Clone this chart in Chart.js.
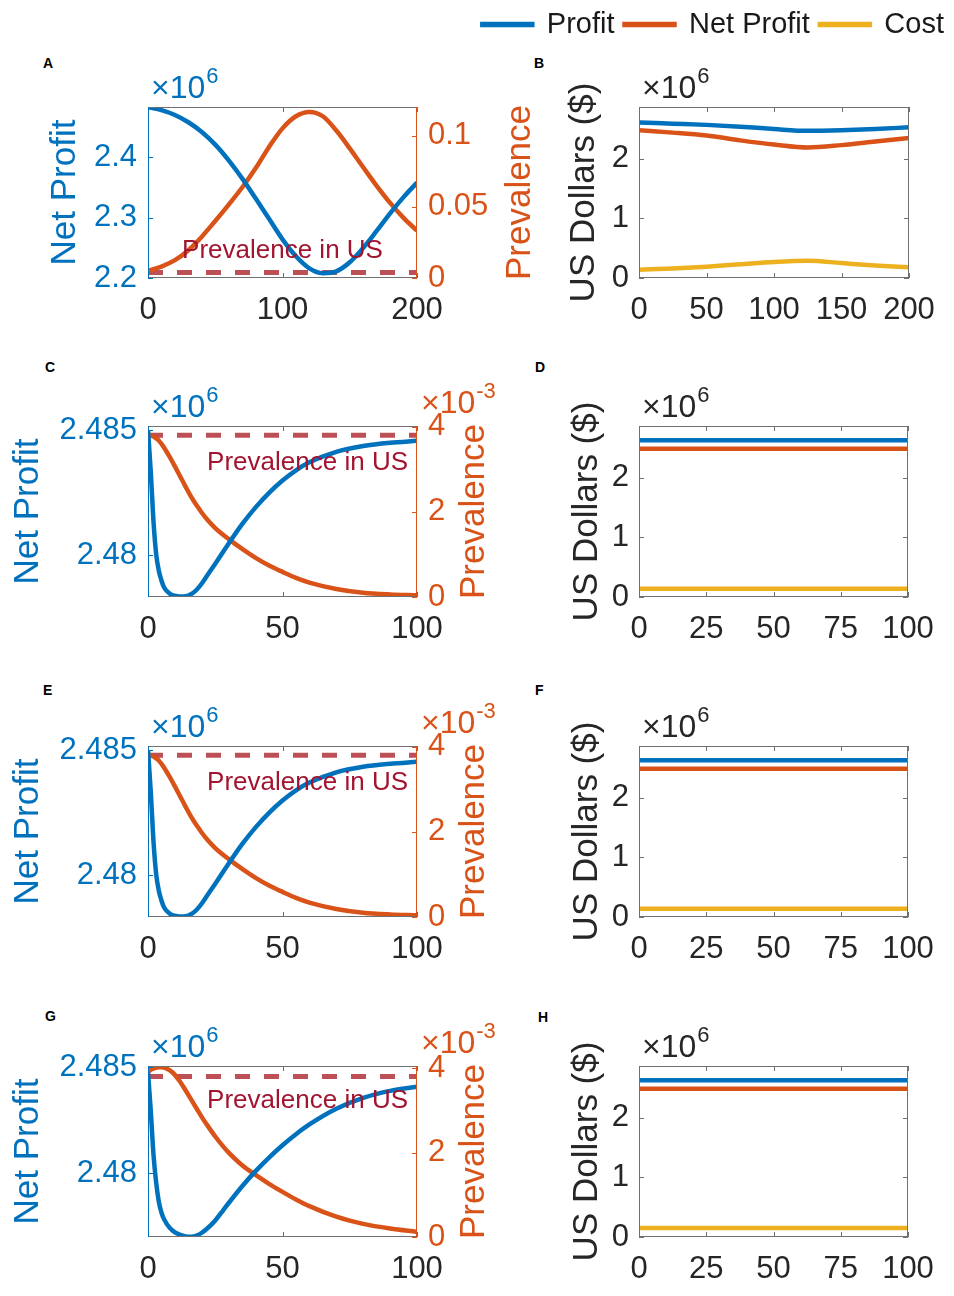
<!DOCTYPE html>
<html>
<head>
<meta charset="utf-8">
<title>Net profit, prevalence and costs</title>
<script src="https://cdn.jsdelivr.net/npm/chart.js@4.4.1/dist/chart.umd.min.js"></script>
<style>
  html, body { margin: 0; padding: 0; background: #fff; }
  body { position: relative; width: 954px; height: 1296px; overflow: hidden; font-family: "Liberation Sans", Arial, sans-serif; }
  canvas { position: absolute; }
  .tag { position: absolute; font-weight: bold; font-size: 14px; color: #000; }
</style>
</head>
<body>
<div class="tag" style="left:43px;top:55px">A</div>
<div class="tag" style="left:534px;top:55px">B</div>
<div class="tag" style="left:45px;top:359px">C</div>
<div class="tag" style="left:535px;top:359px">D</div>
<div class="tag" style="left:43px;top:682px">E</div>
<div class="tag" style="left:535px;top:682px">F</div>
<div class="tag" style="left:45px;top:1008px">G</div>
<div class="tag" style="left:538px;top:1009px">H</div>

<canvas id="panel-a"></canvas>
<canvas id="panel-b"></canvas>
<canvas id="panel-c"></canvas>
<canvas id="panel-d"></canvas>
<canvas id="panel-e"></canvas>
<canvas id="panel-f"></canvas>
<canvas id="panel-g"></canvas>
<canvas id="panel-h"></canvas>

<script>
// money is in millions of dollars (axes show x10^6), prevalence is a fraction
const usPrevalence = 3.8e-3;

// A
const xA = [0, 10, 20, 30, 40, 50, 60, 70, 80, 90, 100, 110, 120, 130, 140, 150, 160, 170, 180, 190, 200];
const netA = [2.483, 2.478, 2.470, 2.458, 2.442, 2.421, 2.395, 2.365, 2.332, 2.298, 2.264, 2.236, 2.216, 2.208, 2.211, 2.226, 2.250, 2.278, 2.307, 2.334, 2.358];
const prevA = [0.005, 0.008, 0.0125, 0.0195, 0.029, 0.040, 0.0515, 0.0635, 0.077, 0.092, 0.105, 0.1135, 0.1165, 0.1135, 0.1035, 0.091, 0.0777, 0.0647, 0.0527, 0.0422, 0.0332];

// B
const xB = [0, 25, 50, 75, 100, 125, 150, 175, 200];
const profitB = [2.61, 2.59, 2.57, 2.54, 2.50, 2.47, 2.48, 2.50, 2.53];
const netB = [2.48, 2.44, 2.39, 2.31, 2.24, 2.19, 2.23, 2.29, 2.35];
const costB = [0.14, 0.16, 0.19, 0.23, 0.27, 0.29, 0.25, 0.21, 0.18];

// C
const xC = [0, 1, 2, 3, 4, 5, 6, 8, 10, 12, 14, 16, 18, 20, 22, 25, 30, 35, 40, 45, 50, 55, 60, 70, 80, 90, 100];
const netC = [2.48500, 2.48340, 2.48142, 2.48009, 2.47940, 2.47900, 2.47872, 2.47848, 2.47839, 2.47836, 2.47837, 2.47845, 2.47862, 2.47888, 2.47920, 2.47967, 2.48048, 2.48125, 2.48192, 2.48250, 2.48299, 2.48340, 2.48372, 2.48414, 2.48437, 2.48450, 2.48458];
const prevC = [3.82e-3, 3.80e-3, 3.77e-3, 3.73e-3, 3.68e-3, 3.60e-3, 3.51e-3, 3.30e-3, 3.07e-3, 2.83e-3, 2.59e-3, 2.36e-3, 2.16e-3, 1.98e-3, 1.82e-3, 1.62e-3, 1.36e-3, 1.13e-3, 0.92e-3, 0.74e-3, 0.59e-3, 0.45e-3, 0.34e-3, 0.19e-3, 0.10e-3, 0.06e-3, 0.04e-3];

// D
const xD = [0, 25, 50, 75, 100];
const profitD = [2.63, 2.63, 2.63, 2.63, 2.63];
const netD = [2.49, 2.49, 2.49, 2.49, 2.49];
const costD = [0.14, 0.14, 0.14, 0.14, 0.14];

// E
const xE = [0, 1, 2, 3, 4, 5, 6, 8, 10, 12, 14, 16, 18, 20, 22, 25, 30, 35, 40, 45, 50, 55, 60, 70, 80, 90, 100];
const netE = [2.48500, 2.48340, 2.48142, 2.48009, 2.47940, 2.47900, 2.47872, 2.47848, 2.47839, 2.47836, 2.47837, 2.47845, 2.47862, 2.47888, 2.47920, 2.47967, 2.48048, 2.48125, 2.48192, 2.48250, 2.48299, 2.48340, 2.48371, 2.48412, 2.48434, 2.48446, 2.48454];
const prevE = [3.82e-3, 3.80e-3, 3.77e-3, 3.73e-3, 3.68e-3, 3.60e-3, 3.51e-3, 3.30e-3, 3.07e-3, 2.83e-3, 2.59e-3, 2.36e-3, 2.16e-3, 1.98e-3, 1.82e-3, 1.62e-3, 1.36e-3, 1.13e-3, 0.92e-3, 0.74e-3, 0.59e-3, 0.45e-3, 0.34e-3, 0.19e-3, 0.10e-3, 0.06e-3, 0.04e-3];

// F
const xF = [0, 25, 50, 75, 100];
const profitF = [2.63, 2.63, 2.63, 2.63, 2.63];
const netF = [2.49, 2.49, 2.49, 2.49, 2.49];
const costF = [0.14, 0.14, 0.14, 0.14, 0.14];

// G
const xG = [0, 1, 2, 3, 4, 5, 6, 8, 10, 12, 14, 16, 18, 20, 22, 25, 28, 30, 35, 40, 45, 50, 55, 60, 70, 80, 90, 100];
const netG = [2.48474, 2.48300, 2.48094, 2.47960, 2.47868, 2.47815, 2.47783, 2.47744, 2.47722, 2.47710, 2.47703, 2.47701, 2.47706, 2.47720, 2.47740, 2.47778, 2.47827, 2.47860, 2.47939, 2.48010, 2.48074, 2.48132, 2.48184, 2.48230, 2.48304, 2.48355, 2.48388, 2.48407];
const prevG = [3.91e-3, 3.96e-3, 3.99e-3, 4.01e-3, 4.02e-3, 4.02e-3, 4.01e-3, 3.95e-3, 3.84e-3, 3.67e-3, 3.47e-3, 3.26e-3, 3.05e-3, 2.84e-3, 2.65e-3, 2.38e-3, 2.14e-3, 2.00e-3, 1.70e-3, 1.47e-3, 1.26e-3, 1.07e-3, 0.89e-3, 0.73e-3, 0.48e-3, 0.31e-3, 0.20e-3, 0.12e-3];

// H
const xH = [0, 25, 50, 75, 100];
const profitH = [2.63, 2.63, 2.63, 2.63, 2.63];
const netH = [2.49, 2.49, 2.49, 2.49, 2.49];
const costH = [0.15, 0.15, 0.15, 0.15, 0.15];

const FONT = '"Liberation Sans", Arial, Helvetica, sans-serif';
const BLUE = '#0072BD', ORANGE = '#D95319', GOLD = '#EDB120';
const INK = '#262626', FRAME = '#707070', US_LINE = '#BD4F57', US_TEXT = '#A2142F';

Chart.defaults.font.family = FONT;
Chart.defaults.animation = false;

const pts = (xs, ys) => xs.map((x, i) => ({ x, y: ys[i] }));
const noGrid = () => ({ display: false, drawTicks: false });

function place(id, left, top, width, height) {
  const c = document.getElementById(id);
  c.width = width;
  c.height = height;
  c.style.left = left + 'px';
  c.style.top = top + 'px';
  c.style.width = width + 'px';
  c.style.height = height + 'px';
  return c;
}

// matlab look: thin box, inward ticks, x10^n labels, right label read bottom-up, note text
const matlabAxes = {
  id: 'matlabAxes',
  afterDatasetsDraw(chart, args, o) {
    const { ctx, chartArea: a, scales } = chart;
    const tl = 5;
    ctx.save();
    ctx.lineWidth = 1;
    const seg = (x1, y1, x2, y2, c) => {
      ctx.strokeStyle = c;
      ctx.beginPath();
      ctx.moveTo(x1, y1);
      ctx.lineTo(x2, y2);
      ctx.stroke();
    };
    scales.x.ticks.forEach(t => {
      const px = Math.round(scales.x.getPixelForValue(t.value)) + 0.5;
      seg(px, a.bottom, px, a.bottom - tl, FRAME);
      seg(px, a.top, px, a.top + tl, FRAME);
    });
    scales.y.ticks.forEach(t => {
      const py = Math.round(scales.y.getPixelForValue(t.value)) + 0.5;
      seg(a.left, py, a.left + tl, py, o.leftColor);
      if (o.mirror) seg(a.right, py, a.right - tl, py, o.leftColor);
    });
    if (scales.y2) {
      scales.y2.ticks.forEach(t => {
        const py = Math.round(scales.y2.getPixelForValue(t.value)) + 0.5;
        seg(a.right, py, a.right - tl, py, o.rightColor);
      });
    }
    seg(a.left, a.top + 0.5, a.right, a.top + 0.5, FRAME);
    seg(a.left, a.bottom - 0.5, a.right, a.bottom - 0.5, FRAME);
    seg(a.left + 0.5, a.top, a.left + 0.5, a.bottom, o.leftColor);
    seg(a.right - 0.5, a.top, a.right - 0.5, a.bottom, o.rightColor);

    const expo = (x, y, sup, color) => {
      ctx.fillStyle = color;
      ctx.textAlign = 'left';
      ctx.textBaseline = 'alphabetic';
      ctx.font = '32px ' + FONT;
      ctx.fillText('\u00D710', x, y);
      const w = ctx.measureText('\u00D710').width;
      ctx.font = '22px ' + FONT;
      ctx.fillText(sup, x + w + 1, y - 15);
    };
    if (o.expLeft) expo(a.left + 3, a.top - 9, o.expLeft, o.leftColor === FRAME ? INK : o.leftColor);
    if (o.expRight) expo(a.right + 4, a.top - 13, o.expRight, o.rightColor);

    if (o.rightTitle) {
      ctx.save();
      ctx.translate(a.right + o.rightTitleOffset, (a.top + a.bottom) / 2);
      ctx.rotate(-Math.PI / 2);
      ctx.fillStyle = o.rightColor;
      ctx.font = '35px ' + FONT;
      ctx.textAlign = 'center';
      ctx.textBaseline = 'middle';
      ctx.fillText(o.rightTitle, 0, 0);
      ctx.restore();
    }
    if (o.note) {
      ctx.fillStyle = US_TEXT;
      ctx.font = '26px ' + FONT;
      ctx.textAlign = o.note.align;
      ctx.textBaseline = 'alphabetic';
      ctx.fillText(o.note.text, a.left + o.note.fx * (a.right - a.left) + o.note.dx, a.top + o.note.dy);
    }
    ctx.restore();
  }
};

// keeps the legend on top while leaving the axes where they belong
const legendRoom = h => ({
  id: 'legendRoom',
  afterInit(chart) {
    const lg = chart.legend;
    if (!lg) return;
    const fit = lg.fit;
    lg.fit = function () {
      fit.call(this);
      this.height = h;
    };
  }
});

function xScale(max, step) {
  return {
    type: 'linear', min: 0, max,
    ticks: { stepSize: step, color: INK, font: { size: 31 }, padding: 14, maxRotation: 0, autoSkip: false },
    grid: noGrid(), border: { display: false },
    afterFit: s => { s.height = 70; }
  };
}

function profitPanel(id, top, p) {
  const h = 171;
  const canvas = place(id, 0, top - 60, 560, 60 + h + 70);
  return new Chart(canvas, {
    type: 'line',
    data: {
      datasets: [
        { label: 'Net Profit', data: pts(p.x, p.net), yAxisID: 'y', borderColor: BLUE, backgroundColor: BLUE, borderWidth: 4.5 },
        { label: 'Prevalence', data: pts(p.x, p.prev), yAxisID: 'y2', borderColor: ORANGE, backgroundColor: ORANGE, borderWidth: 4.5 },
        { label: 'Prevalence in US', data: pts([0, p.xMax], [usPrevalence, usPrevalence]), yAxisID: 'y2', borderColor: US_LINE, borderWidth: 5, borderDash: [15, 14] }
      ]
    },
    options: {
      responsive: false,
      layout: { padding: { top: 60, right: 0, bottom: 0, left: 0 } },
      elements: { point: { radius: 0 }, line: { cubicInterpolationMode: 'monotone' } },
      plugins: {
        legend: { display: false },
        tooltip: { enabled: false },
        matlabAxes: {
          leftColor: BLUE, rightColor: ORANGE, mirror: false,
          expLeft: '6', expRight: p.expRight,
          rightTitle: 'Prevalence', rightTitleOffset: p.rightTitleOffset,
          note: p.note
        }
      },
      scales: {
        x: xScale(p.xMax, p.xStep),
        y: {
          position: 'left', min: p.yMin, max: p.yMax,
          ticks: { stepSize: p.yStep, includeBounds: false, color: BLUE, font: { size: 31 }, padding: 11, callback: v => String(+v.toFixed(4)) },
          title: { display: true, text: 'Net Profit', color: BLUE, font: { size: 35 }, padding: { top: p.titlePad, bottom: 0 } },
          grid: noGrid(), border: { display: false },
          afterFit: s => { s.width = 148; }
        },
        y2: {
          position: 'right', min: 0, max: p.pMax,
          ticks: { stepSize: p.pStep, includeBounds: false, color: ORANGE, font: { size: 31 }, padding: 11, callback: p.pLabel },
          grid: noGrid(), border: { display: false },
          afterFit: s => { s.width = 143; }
        }
      }
    },
    plugins: [matlabAxes]
  });
}

function dollarPanel(id, top, right, p, withLegend) {
  const h = 171;
  const cy = withLegend ? 0 : top - 60;
  const canvas = place(id, 470, cy, 484, (top - cy) + h + 70);
  return new Chart(canvas, {
    type: 'line',
    data: {
      datasets: [
        { label: 'Profit', data: pts(p.x, p.profit), borderColor: BLUE, backgroundColor: BLUE, borderWidth: 4.5 },
        { label: 'Net Profit', data: pts(p.x, p.net), borderColor: ORANGE, backgroundColor: ORANGE, borderWidth: 4.5 },
        { label: 'Cost', data: pts(p.x, p.cost), borderColor: GOLD, backgroundColor: GOLD, borderWidth: 4.5 }
      ]
    },
    options: {
      responsive: false,
      layout: { padding: { top: withLegend ? 0 : 60, right: 0, bottom: 0, left: 0 } },
      elements: { point: { radius: 0 }, line: { cubicInterpolationMode: 'monotone' } },
      plugins: {
        legend: {
          display: withLegend, position: 'top', align: 'end',
          labels: { boxWidth: 50, boxHeight: 1, padding: 10, color: '#1a1a1a', font: { size: 29 } }
        },
        tooltip: { enabled: false },
        matlabAxes: { leftColor: FRAME, rightColor: FRAME, mirror: true, expLeft: '6' }
      },
      scales: {
        x: xScale(p.xMax, p.xStep),
        y: {
          position: 'left', min: 0, max: 2.87,
          ticks: { stepSize: 1, includeBounds: false, color: INK, font: { size: 31 }, padding: 10 },
          title: { display: true, text: 'US Dollars ($)', color: INK, font: { size: 35 }, padding: { top: p.titlePad, bottom: 0 } },
          grid: noGrid(), border: { display: false },
          afterFit: s => { s.width = 169; }
        },
        yR: {
          position: 'right',
          ticks: { display: false }, grid: noGrid(), border: { display: false },
          afterFit: s => { s.width = 954 - right; }
        }
      }
    },
    plugins: withLegend ? [matlabAxes, legendRoom(top)] : [matlabAxes]
  });
}

const perMille = v => String(Math.round(v * 1000));
const noteTop = dy => ({ text: 'Prevalence in US', align: 'right', fx: 1, dx: -9, dy });

profitPanel('panel-a', 107, {
  x: xA, net: netA, prev: prevA, xMax: 200, xStep: 100,
  yMin: 2.2, yMax: 2.4833, yStep: 0.1, titlePad: 44,
  pMax: 0.12, pStep: 0.05, pLabel: v => String(+v.toFixed(3)), expRight: null, rightTitleOffset: 103,
  note: { text: 'Prevalence in US', align: 'center', fx: 0.5, dx: 0, dy: 151 }
});
profitPanel('panel-c', 426, {
  x: xC, net: netC, prev: prevC, xMax: 100, xStep: 50,
  yMin: 2.47834, yMax: 2.48517, yStep: 0.005, titlePad: 7,
  pMax: 4.02e-3, pStep: 0.002, pLabel: perMille, expRight: '-3', rightTitleOffset: 57,
  note: noteTop(44)
});
profitPanel('panel-e', 746, {
  x: xE, net: netE, prev: prevE, xMax: 100, xStep: 50,
  yMin: 2.47834, yMax: 2.48517, yStep: 0.005, titlePad: 7,
  pMax: 4.02e-3, pStep: 0.002, pLabel: perMille, expRight: '-3', rightTitleOffset: 57,
  note: noteTop(44)
});
profitPanel('panel-g', 1066, {
  x: xG, net: netG, prev: prevG, xMax: 100, xStep: 50,
  yMin: 2.47700, yMax: 2.48505, yStep: 0.005, titlePad: 7,
  pMax: 4.05e-3, pStep: 0.002, pLabel: perMille, expRight: '-3', rightTitleOffset: 57,
  note: noteTop(42)
});

dollarPanel('panel-b', 107, 909, { x: xB, profit: profitB, net: netB, cost: costB, xMax: 200, xStep: 50, titlePad: 93 }, true);
dollarPanel('panel-d', 426, 908, { x: xD, profit: profitD, net: netD, cost: costD, xMax: 100, xStep: 25, titlePad: 96 }, false);
dollarPanel('panel-f', 746, 908, { x: xF, profit: profitF, net: netF, cost: costF, xMax: 100, xStep: 25, titlePad: 96 }, false);
dollarPanel('panel-h', 1066, 908, { x: xH, profit: profitH, net: netH, cost: costH, xMax: 100, xStep: 25, titlePad: 96 }, false);
</script>
</body>
</html>
